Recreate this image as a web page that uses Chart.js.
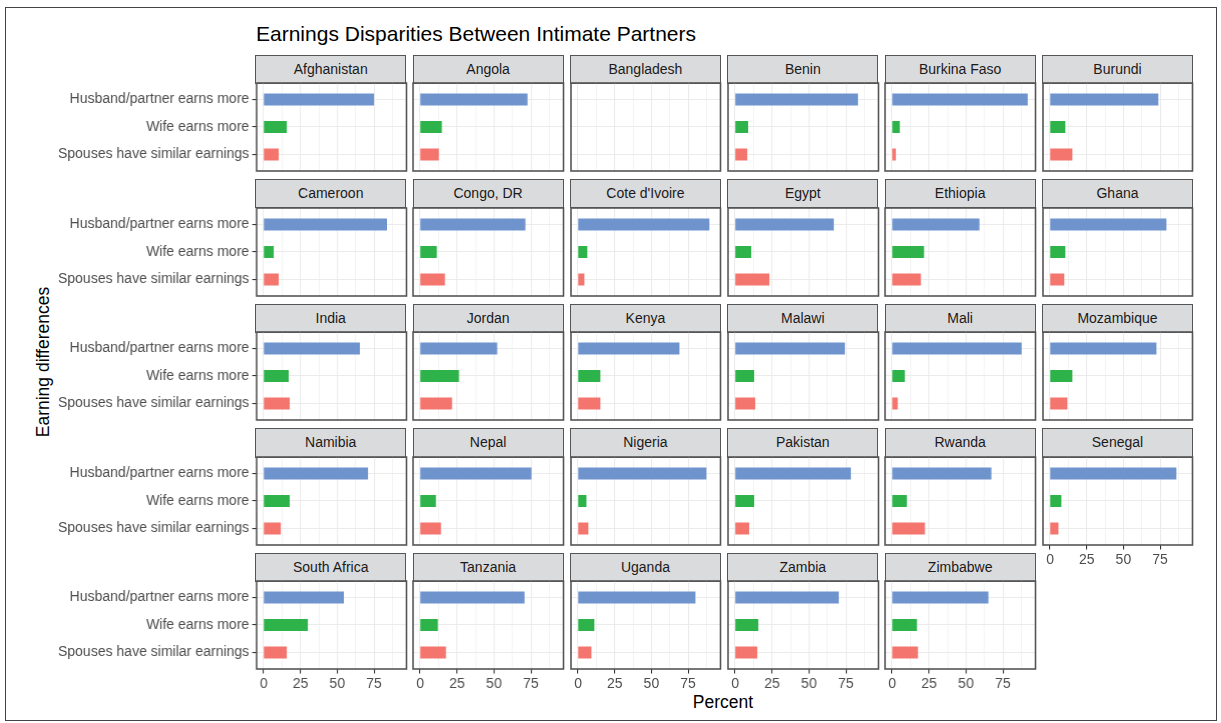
<!DOCTYPE html>
<html>
<head>
<meta charset="utf-8">
<script src="https://cdn.jsdelivr.net/npm/chart.js@4"></script>
<style>
  html,body{margin:0;padding:0;background:#fff;}
  body{width:1221px;height:723px;position:relative;overflow:hidden;font-family:"Liberation Sans",Arial,sans-serif;}
  .frame{position:absolute;left:5px;top:7px;width:1212px;height:714px;border:1px solid #444;box-sizing:border-box;}
  .title{position:absolute;left:256px;top:22px;font-size:21px;color:#000;white-space:nowrap;}
  .strip{position:absolute;box-sizing:border-box;background:#dadbdd;border:1.6px solid #555;
         font-size:14px;color:#1a1a1a;text-align:center;white-space:nowrap;}
  .panel{position:absolute;}
  .ytitle{position:absolute;left:43px;top:362px;font-size:17.5px;color:#000;white-space:nowrap;
          transform:translate(-50%,-50%) rotate(-90deg);}
  .xtitle{position:absolute;left:723px;top:702px;font-size:17.5px;color:#000;white-space:nowrap;
          transform:translate(-50%,-50%);}
</style>
</head>
<body>
<div class="frame"></div>
<div class="title">Earnings Disparities Between Intimate Partners</div>
<div class="ytitle">Earning differences</div>
<div class="xtitle">Percent</div>
<div id="grid"></div>
<script>
// data (percent)
const countries=['Afghanistan','Angola','Bangladesh','Benin','Burkina Faso','Burundi',
  'Cameroon','Congo, DR',"Cote d'Ivoire",'Egypt','Ethiopia','Ghana',
  'India','Jordan','Kenya','Malawi','Mali','Mozambique',
  'Namibia','Nepal','Nigeria','Pakistan','Rwanda','Senegal',
  'South Africa','Tanzania','Uganda','Zambia','Zimbabwe'];
const categories=['Husband/partner earns more','Wife earns more','Spouses have similar earnings'];
const husbandMore=[74.8,72.5,null,83,91.6,73.6, 83.6,71.1,89.3,66.6,58.9,79.1, 65.2,52,68.9,74.1,87.5,72.3, 70.7,75.2,87.3,78.2,67,85.9, 54.3,70.5,79.8,70,65];
const wifeMore   =[15.5,14.5,null,8.6,5,10.2, 6.6,11.1,6.1,10.7,21.4,10.2, 16.8,26.1,15,12.7,8.4,15, 17.5,10.5,5.5,12.7,9.8,7.5, 29.8,11.8,10.9,15.5,16.6];
const similar    =[10,12.5,null,8,2.3,15, 10,16.6,4.1,23,19.3,9.5, 17.5,21.4,15,13.4,3.6,11.6, 11.4,13.9,6.8,9.3,22,5.5, 15.5,17.3,8.9,14.8,17.3];
const xTicks=[0,25,50,75];
const xGrid=[0,12.5,25,37.5,50,62.5,75,87.5];
const barColors=['#6f94cd','#2eb34b','#f4756e'];

Chart.defaults.font.family='"Liberation Sans", Arial, sans-serif';
Chart.defaults.font.size=14;
Chart.defaults.color='#4d4d4d';

// panel geometry
const nCol=6, colX0=256, colStep=157.35, panelW=149.5;
const rowY0=55.3, rowStep=124.6, stripH=27.7, panelH=88;

const framePlugin={
  id:'frame',
  afterDraw(chart){
    const a=chart.chartArea, c=chart.ctx;
    c.save();
    c.strokeStyle='#555';
    c.lineWidth=1.6;
    c.strokeRect(a.left,a.top,a.right-a.left,a.bottom-a.top);
    c.restore();
  }
};

const host=document.getElementById('grid');
countries.forEach((name,i)=>{
  const col=i%nCol, row=Math.floor(i/nCol);
  const x=colX0+col*colStep, top=rowY0+row*rowStep;
  const showX=i+nCol>=countries.length;
  const showY=col===0;

  const strip=document.createElement('div');
  strip.className='strip';
  strip.style.left=(x-0.8)+'px';
  strip.style.top=(top-0.8)+'px';
  strip.style.width=(panelW+1.6)+'px';
  strip.style.height=(stripH+1.6)+'px';
  strip.style.lineHeight=(stripH-1.6)+'px';
  strip.textContent=name;
  host.appendChild(strip);

  const padL=showY?210:2, padR=2, padT=2, padB=showX?30:2;
  const box=document.createElement('div');
  box.className='panel';
  box.style.left=(x-padL)+'px';
  box.style.top=(top+stripH-padT)+'px';
  box.style.width=(padL+panelW+padR)+'px';
  box.style.height=(padT+panelH+padB)+'px';
  const cv=document.createElement('canvas');
  box.appendChild(cv);
  host.appendChild(box);

  const vals=[husbandMore[i],wifeMore[i],similar[i]];
  const pts=vals.map((v,k)=>v==null?null:{x:v,y:k+1}).filter(p=>p);

  new Chart(cv,{
    type:'bar',
    data:{datasets:[{data:pts,backgroundColor:pts.map(p=>barColors[p.y-1]),barThickness:11.5}]},
    options:{
      indexAxis:'y',
      responsive:true,
      maintainAspectRatio:false,
      animation:false,
      layout:{padding:{top:padT,right:padR,left:0,bottom:0}},
      plugins:{legend:{display:false},tooltip:{enabled:false}},
      scales:{
        x:{
          type:'linear',min:-4.8,max:97.1,offset:false,
          afterBuildTicks:s=>{s.ticks=xGrid.map(v=>({value:v}));},
          afterFit:s=>{s.height=padB;s.paddingLeft=0;s.paddingRight=0;},
          border:{display:false},
          grid:{
            offset:false,
            color:'#ebebeb',
            lineWidth:c=>(c.tick&&xTicks.includes(c.tick.value))?1.1:0.6,
            drawTicks:showX,
            tickLength:4.4,
            tickColor:c=>(c.tick&&xTicks.includes(c.tick.value))?'#333':'rgba(0,0,0,0)'
          },
          ticks:{display:showX,autoSkip:false,maxRotation:0,padding:2,
            callback:v=>xTicks.includes(v)?String(v):''}
        },
        y:{
          type:'linear',min:0.4,max:3.6,reverse:true,offset:false,
          afterBuildTicks:s=>{s.ticks=[1,2,3].map(v=>({value:v}));},
          afterFit:s=>{s.width=padL;s.paddingTop=0;s.paddingBottom=0;},
          border:{display:false},
          grid:{offset:false,color:'#ebebeb',lineWidth:1.1,drawTicks:showY,tickLength:4.4,tickColor:'#333'},
          ticks:{display:showY,padding:3,callback:v=>categories[v-1]}
        }
      }
    },
    plugins:[framePlugin]
  });
});
</script>
</body>
</html>
